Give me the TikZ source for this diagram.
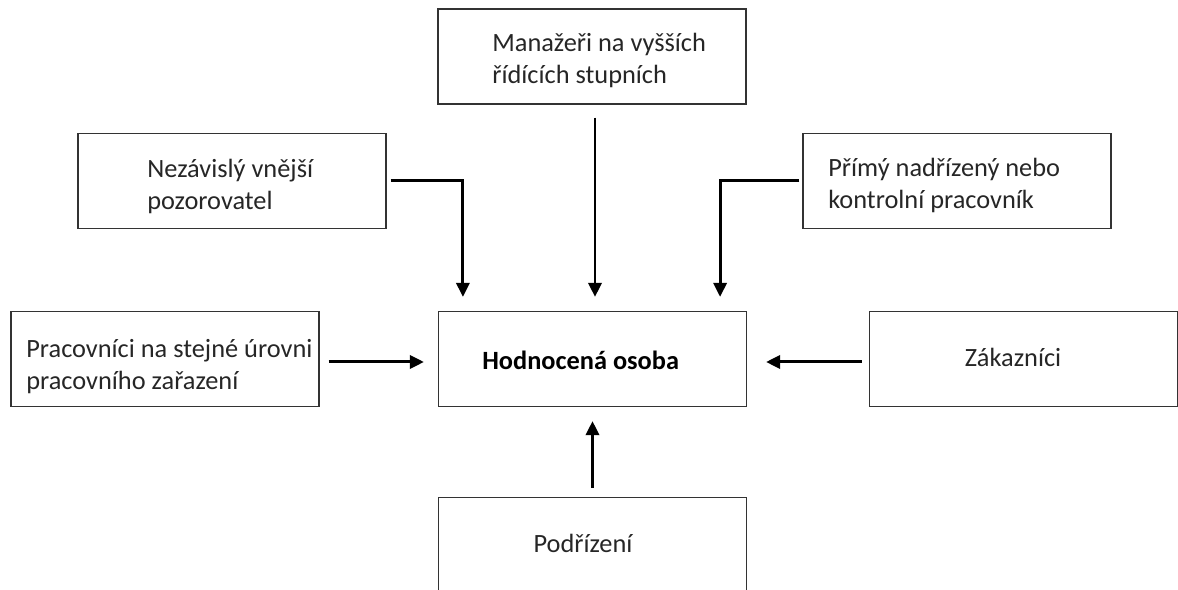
\documentclass[tikz,border=0pt]{standalone}
\usepackage{fontspec}
\setmainfont{Carlito}
\usetikzlibrary{arrows.meta,positioning}

\tikzset{
  box/.style={draw=black!80,line width=0.7pt,minimum width=6.16cm,minimum height=1.9cm,inner sep=0pt},
  lbl/.style={anchor=west,align=left,inner sep=0pt,font=\fontsize{15}{18.2}\selectfont,text=black!85},
  arr/.style={->,line width=1.7pt}
}

\begin{document}
\begin{tikzpicture}[line cap=butt,line join=miter,>={Triangle[width=7.5pt,length=8pt]},x=0.02cm,y=-0.02cm]
        \useasboundingbox (0,0) rectangle (1178,590);
        \node[box] (mgr) at (592,56.5) {};
        \node[box] (nez) at (232,181) {};
        \node[box] (prim) at (957,181) {};
        \node[box] (peer) at (165,359) {};
        \node[box] (hod) at (592.5,359) {};
        \node[box] (zak) at (1023.5,359) {};
        \node[box] (pod) at (592.5,545) {};
        \node[lbl] (mgrtxt) at (492,60) {Manažeři na vyšších\\řídících stupních};
        \node[lbl] (neztxt) at (147,186) {Nezávislý vnější\\pozorovatel};
        \node[lbl] (primtxt) at (828,185) {Přímý nadřízený nebo\\kontrolní pracovník};
        \node[lbl] (peertxt) at (26,367) {Pracovníci na stejné úrovni\\pracovního zařazení};
        \node[lbl,font=\fontsize{15}{18.2}\selectfont\bfseries,text=black] (hodtxt) at (482,360) {Hodnocená osoba};
        \node[lbl,anchor=center] (zaktxt) at (1013,357) {Zákazníci};
        \node[lbl,anchor=center] (podtxt) at (583,543) {Podřízení};
        \draw [arr,shorten <=0.26cm,shorten >=0.28cm] ([xshift=0.06cm]mgr.south) -- ([xshift=0.06cm]mgr.south |- hod.north);
        \draw [arr,shorten <=0.08cm,shorten >=0.28cm] (nez.east) -| ([xshift=0.5cm]hod.north west);
        \draw [arr,shorten <=0.06cm,shorten >=0.28cm] (prim.west) -| ([xshift=-0.54cm]hod.north east);
        \draw [arr,shorten <=0.18cm,shorten >=0.28cm] ([yshift=-0.06cm]peer.east) -- ([yshift=-0.06cm]hod.west);
        \draw [arr,shorten <=0.14cm,shorten >=0.38cm] ([yshift=-0.06cm]zak.west) -- ([yshift=-0.06cm]hod.east);
        \draw [arr,shorten <=0.18cm,shorten >=0.28cm] (pod.north) -- (hod.south);
\end{tikzpicture}
\end{document}
